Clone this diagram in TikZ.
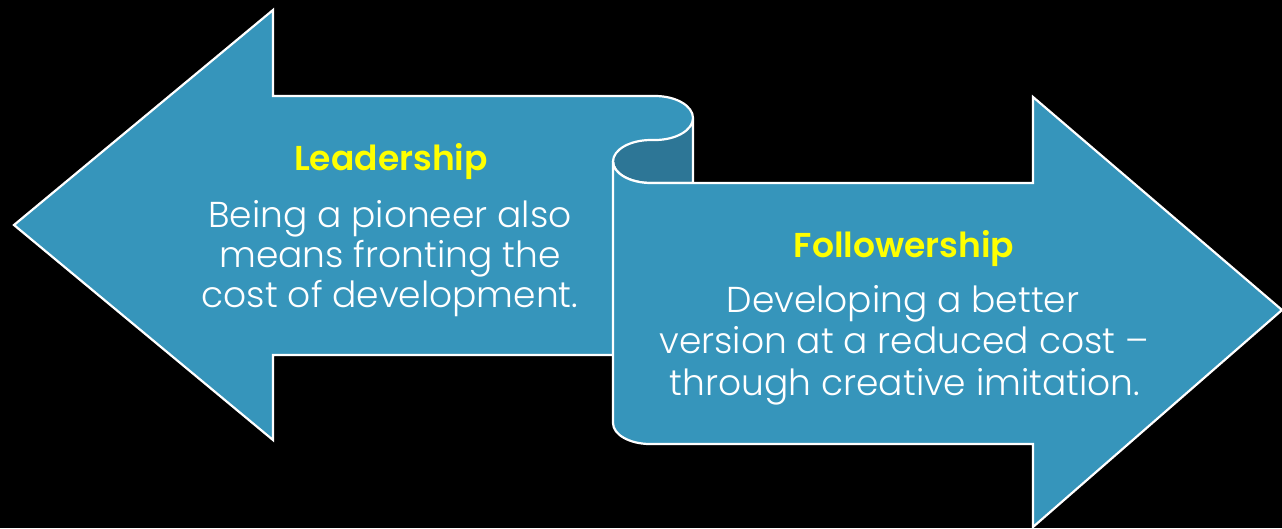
\documentclass[tikz,border=0pt]{standalone}
\usepackage{fontspec}
\setmainfont{Poppins}[UprightFont=* Light, BoldFont=* SemiBold]
\definecolor{arrowblue}{RGB}{54,149,187}
\definecolor{curldark}{RGB}{45,118,150}
\definecolor{headyellow}{RGB}{255,255,0}
\begin{document}
\begin{tikzpicture}[x=1pt,y=-1pt,
  outline/.style={draw=white,line width=2.2pt,line join=miter},
  headtext/.style={font=\fontsize{34.5}{40}\selectfont\bfseries,text=headyellow,anchor=base,inner sep=0pt},
  bodytext/.style={font=\fontsize{36}{40}\selectfont,text=white,anchor=base,inner sep=0pt}]
\useasboundingbox (0,0) rectangle (1282,528);
\fill[black] (0,0) rectangle (1282,528);
% left arrow fill
\fill[arrowblue] (273,10) -- (14,225) -- (273,440) -- (273,355) -- (640,355) -- (640,140)
  -- (655,140) .. controls (676,140) and (693,130.15) .. (693,118)
  .. controls (693,105.85) and (676,96) .. (655,96) -- (273,96) -- cycle;
% left arrow visible outline
\draw[outline] (640,355) -- (273,355) -- (273,440) -- (14,225) -- (273,10) -- (273,96) -- (655,96)
  .. controls (676,96) and (693,105.85) .. (693,118);
% dark inside of curl
\filldraw[outline,fill=curldark] (693,118) .. controls (693,130.15) and (676,140) .. (655,140)
  -- (651,140) .. controls (630,140) and (613,149.6) .. (613,161.5)
  .. controls (613,173.4) and (630,183) .. (651,183) -- (693,183) -- cycle;
% right arrow
\filldraw[outline,fill=arrowblue] (613,161.5) .. controls (613,173.4) and (630,183) .. (651,183)
  -- (1033,183) -- (1033,97) -- (1282,310) -- (1033,527) -- (1033,444) -- (650,444)
  .. controls (629.6,444) and (613,434.6) .. (613,423) -- cycle;
% texts
\node[headtext] (lead) at (391,170) {Leadership};
\node[bodytext] (l1) at (390,227) {Being a pioneer also};
\node[bodytext] (l2) at (390,267) {means fronting the};
\node[bodytext] (l3) at (390,307) {cost of development.};
\node[headtext] (foll) at (904,257) {Followership};
\node[bodytext] (r1) at (903,312) {Developing a better};
\node[bodytext] (r2) at (904,353) {version at a reduced cost –};
\node[bodytext] (r3) at (905,395) {through creative imitation.};
\end{tikzpicture}
\end{document}
